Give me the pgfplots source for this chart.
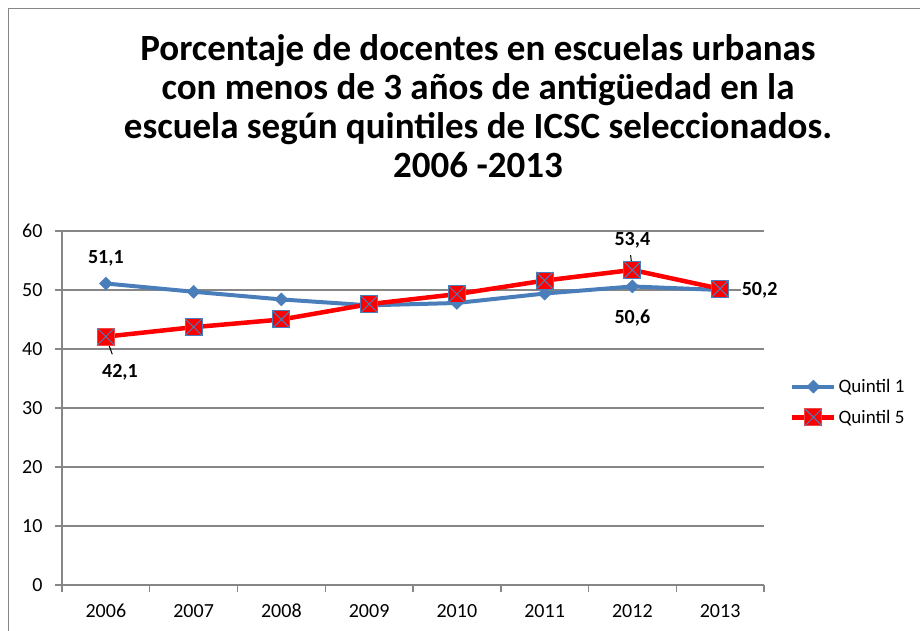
\documentclass[border=0pt]{standalone}
\usepackage{pgfplots}
\pgfplotsset{compat=1.18}
\usepackage{fontspec}
\setmainfont{Carlito}[Numbers=Lining]
\definecolor{qblue}{RGB}{74,126,187}
\definecolor{qred}{RGB}{255,0,0}
\definecolor{sqedge}{RGB}{240,70,70}
\definecolor{axgray}{RGB}{134,134,134}
\pgfdeclareplotmark{sqx}{%
  \pgfpathrectangle{\pgfqpoint{-\pgfplotmarksize}{-\pgfplotmarksize}}{\pgfqpoint{2\pgfplotmarksize}{2\pgfplotmarksize}}%
  \pgfusepathqfillstroke
  \pgfsetstrokecolor{qblue}\pgfsetlinewidth{1pt}%
  \pgfpathmoveto{\pgfqpoint{-\pgfplotmarksize}{-\pgfplotmarksize}}%
  \pgfpathlineto{\pgfqpoint{\pgfplotmarksize}{\pgfplotmarksize}}%
  \pgfpathmoveto{\pgfqpoint{-\pgfplotmarksize}{\pgfplotmarksize}}%
  \pgfpathlineto{\pgfqpoint{\pgfplotmarksize}{-\pgfplotmarksize}}%
  \pgfusepathqstroke}
\begin{document}
\begin{tikzpicture}
\begin{pgfinterruptboundingbox}
\begin{axis}[
  scale only axis, width=702pt, height=354pt,
  xmin=-0.5, xmax=7.5, ymin=0, ymax=60,
  axis x line=bottom, axis y line=left,
  axis line style={-, axgray, line width=1.5pt},
  xtick={0,...,7},
  xticklabels={2006,2007,2008,2009,2010,2011,2012,2013},
  major x tick style={draw=none},
  minor xtick={-0.5,0.5,...,7.5},
  minor tick length=7pt,
  minor x tick style={axgray, line width=1.5pt},
  ytick={0,10,...,60},
  major tick length=7pt,
  tick align=outside,
  y tick style={axgray, line width=1.5pt},
  ymajorgrids, major grid style={axgray, line width=1.5pt},
  tick label style={font=\fontsize{20}{24}\selectfont},
  /pgf/number format/assume math mode=true,
  yticklabel style={xshift=-9pt},
  xticklabel style={yshift=-9pt, text height=13pt, text depth=0pt},
  legend style={at={(1.037,0.517)}, anchor=west, draw=none, fill=none,
    font=\fontsize{19}{23}\selectfont, row sep=12pt, inner sep=0pt,
    /tikz/every even column/.append style={column sep=2pt}},
  legend cell align=left,
  legend image code/.code={\draw[mark repeat=2, mark phase=2] plot coordinates {(0pt,0pt) (21pt,0pt) (42pt,0pt)};},
  clip=false,
]
\coordinate (bl) at (rel axis cs:0,0);
\addplot[qblue, line width=4pt, mark=square*, mark size=4.6pt,
  mark options={rotate=45, solid, line width=0.5pt, fill=qblue}]
  coordinates {(0,51.1) (1,49.7) (2,48.4) (3,47.4) (4,47.8) (5,49.4) (6,50.6) (7,50.0)};
\addlegendentry{Quintil 1}
\addplot[qred, line width=4.5pt, mark=sqx, mark size=8.5pt,
  mark options={solid, line width=1pt, draw=sqedge, fill=qred}]
  coordinates {(0,42.1) (1,43.7) (2,45.0) (3,47.6) (4,49.3) (5,51.6) (6,53.4) (7,50.2)};
\addlegendentry{Quintil 5}
\begin{scope}[font=\fontsize{20}{24}\selectfont\bfseries]
\node at (axis cs:0,55.4) {51,1};
\node at (axis cs:0.16,36.1) {42,1};
\draw[black, line width=1pt] (axis cs:0,42.1) -- (axis cs:0.073,39.1);
\node at (axis cs:6,58.5) {53,4};
\draw[black, line width=1pt] (axis cs:5.98,55.9) -- (axis cs:6,53.4);
\node at (axis cs:6,45.2) {50,6};
\node[fill=white, inner sep=1pt] at (axis cs:7.45,50.0) {50,2};
\end{scope}
\end{axis}
\end{pgfinterruptboundingbox}
\begin{scope}[shift={(bl)}, xshift=-62pt, yshift=-46pt, x=1pt, y=1pt]
\useasboundingbox (0,0) rectangle (920,631);
\draw[axgray, line width=1.5pt] (8.5,0) -- (8.5,622.5) -- (920,622.5);
\node[font=\fontsize{37}{39}\selectfont\bfseries, align=center, anchor=center]
  at (478,525) {Porcentaje de docentes en escuelas urbanas\\con menos de 3 años de antigüedad en la\\escuela según quintiles de ICSC seleccionados.\\2006 -2013};
\end{scope}
\end{tikzpicture}
\end{document}
